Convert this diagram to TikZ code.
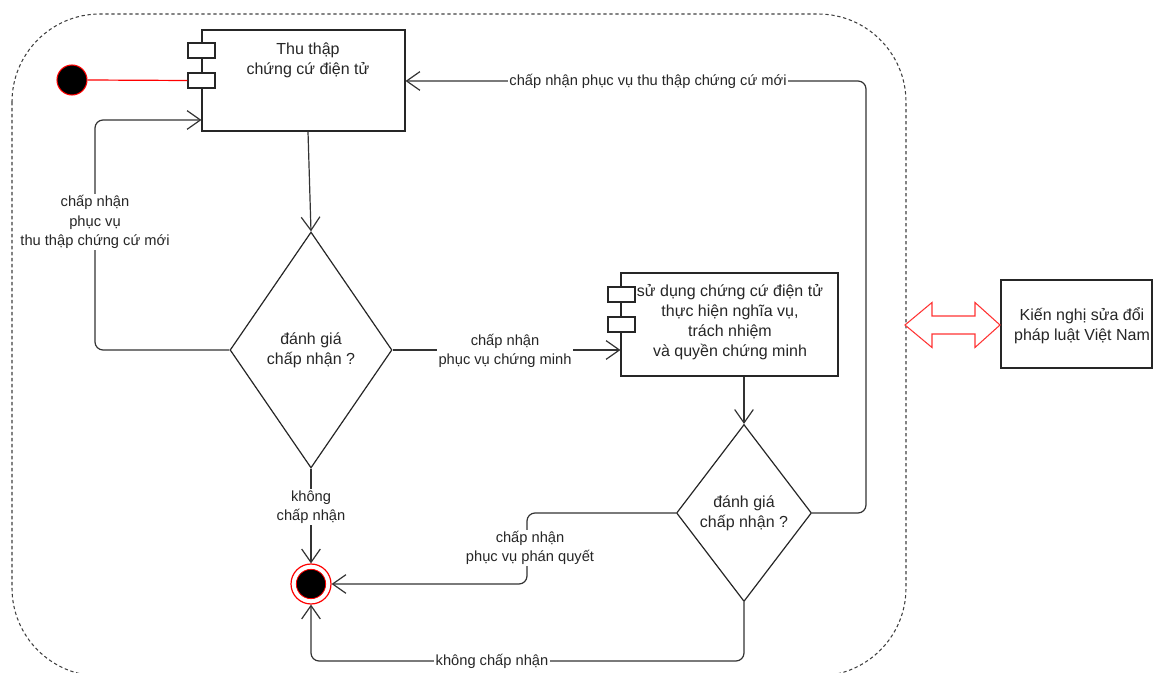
\documentclass[tikz,border=0pt]{standalone}
\usepackage{fontspec}
\setmainfont{Liberation Sans}
\usetikzlibrary{arrows.meta,shapes.geometric,calc}
\begin{document}
\begin{tikzpicture}[x=0.75pt,y=-0.75pt,
  line/.style={draw=black!80, line width=0.9pt},
  flow/.style={line, rounded corners=6pt, -{Straight Barb[length=10pt,width=14pt]}},
  box/.style={draw=black!85, line width=0.8pt, fill=white, rectangle, inner sep=0pt},
  port/.style={box, minimum width=20.25pt, minimum height=11.25pt},
  txt/.style={font=\fontsize{12pt}{15pt}\selectfont, align=center, text=black!85, inner sep=0pt},
  lbl/.style={font=\fontsize{11pt}{14.5pt}\selectfont, align=center, text=black!85, fill=white, inner sep=1pt},
  decision/.style={diamond, draw=black!85, line width=0.9pt, inner sep=0pt, align=center,
    font=\fontsize{12pt}{15pt}\selectfont, text=black!85},
  frame/.style={draw=black!75, line width=0.8pt, dash pattern=on 2.5pt off 2pt, rounded corners=66pt}
]
\useasboundingbox (0,0) rectangle (1154,673);
% frame
\draw[frame] (12,14) rectangle (906,676);
% nodes
\node[box, minimum width=152.25pt, minimum height=75.75pt] (box1) at (303.5,80.5) {};
\node[port] (p1a) at (201.5,50.5) {};
\node[port] (p1b) at (201.5,80.5) {};
\node[txt] (box1t) at (308,60) {Thu thập\\chứng cứ điện tử};

\node[box, minimum width=162.75pt, minimum height=77.25pt] (box2) at (729.5,324.5) {};
\node[port] (p2a) at (621.5,294.5) {};
\node[port] (p2b) at (621.5,324.5) {};
\node[txt] (box2t) at (730,322) {sử dụng chứng cứ điện tử\\thực hiện nghĩa vụ,\\trách nhiệm\\và quyền chứng minh};

\node[decision, minimum width=121.5pt, minimum height=177pt] (d1) at (311,350) {đánh giá\\chấp nhận ?};
\node[decision, minimum width=101.25pt, minimum height=132.75pt] (d2) at (744,513) {đánh giá\\chấp nhận ?};

\node[circle, fill=black, draw=red, line width=0.8pt, minimum size=22.5pt, inner sep=0pt] (start) at (72,80) {};
\node[circle, fill=white, draw=red, line width=0.9pt, minimum size=30pt, inner sep=0pt] (end) at (311,584) {};
\node[circle, fill=black, draw=red, line width=0.6pt, minimum size=22pt, inner sep=0pt] (endin) at (end.center) {};

\node[box, minimum width=113.25pt, minimum height=66pt] (box3) at (1076.5,324) {};
\node[txt] (box3t) at (1082,326) {Kiến nghị sửa đổi\\pháp luật Việt Nam};

% double arrow
\draw[draw=red!80, fill=white, line width=0.8pt] (905,325) -- (932,302.5) -- (932,316) -- (975,316) -- (975,302.5) -- (1000,325) -- (975,347.5) -- (975,334) -- (932,334) -- (932,347.5) -- cycle;

% connectors
\draw[red, line width=0.9pt] (start.east) -- (p1b.west);
\draw[flow] (box1t.south |- box1.south) -- (d1.north);
\draw[flow] (d1.west) -- (95,350) -- (95,120) -- (box1.west |- 0,120);
\draw[flow] (d1.east) -- (d1.east -| box2.west);
\draw[flow] (box2.south -| d2.north) -- (d2.north);
\draw[flow] (d2.east) -- (866,513) -- (866,81) -- (box1.east |- 0,81);
\draw[flow] (d2.west) -- (527,513) -- (527,584) -- (end.east);
\draw[flow] (d1.south) -- (end.north);
\draw[flow] (d2.south) -- (744,661) -- (311,661) -- (end.south);

% labels
\node[lbl] (l1) at (95,222) {chấp nhận\\phục vụ\\thu thập chứng cứ mới};
\node[lbl] (l2) at (505,351) {chấp nhận\\phục vụ chứng minh};
\node[lbl] (l3) at (648,81) {chấp nhận phục vụ thu thập chứng cứ mới};
\node[lbl] (l4) at (530,548) {chấp nhận\\phục vụ phán quyết};
\node[lbl] (l5) at (311,507) {không\\chấp nhận};
\node[lbl] (l6) at (492,661) {không chấp nhận};
\end{tikzpicture}
\end{document}
